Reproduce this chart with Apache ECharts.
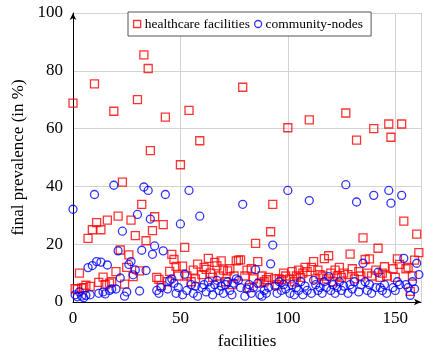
<!DOCTYPE html>
<html>
<head>
<meta charset="utf-8">
<script src="https://cdn.jsdelivr.net/npm/echarts@6/dist/echarts.min.js"></script>
<style>
html,body{margin:0;padding:0;background:#fff;}
#chart{width:427px;height:355px;}
</style>
</head>
<body>
<div id="chart"></div>
<script>
const seriesNames = ['healthcare facilities', 'community-nodes'];
const xTicks = [0, 50, 100, 150];
const yTicks = [0, 20, 40, 60, 80, 100];

const healthcare = [
  68.8, 4.6, 4.5, 10, 4.8, 5, 5.8, 22, 5.4, 25,
  75.5, 27.5, 6.8, 25, 8.6, 6, 28.3, 6.5, 7, 66,
  10.5, 29.7, 18, 41.5, 6.2, 12, 16.3, 28.3, 8.8, 23,
  70, 10.8, 33.8, 85.5, 21.2, 80.8, 52.4, 24.7, 29.5, 8.5,
  7.8, 5.7, 26.8, 64, 7, 10.6, 16.5, 14.7, 12.3, 9,
  47.5, 12.4, 18.9, 9, 66.3, 7, 11, 8, 13.1, 55.8,
  9.5, 12, 11.3, 15.1, 10, 8.5, 13.7, 12.5, 9, 14.2,
  11, 7, 10.8, 11.5, 6, 9, 14.2, 14.5, 14.6, 74.3,
  9, 11, 5, 11.5, 8, 20.3, 14, 6.5, 9, 7,
  7.7, 8.5, 24.3, 33.8, 8, 6, 8, 7.7, 10, 9,
  60.3, 8, 10.5, 7, 9, 11, 8.5, 10, 12, 10.5,
  63, 12, 14, 8, 11, 9.5, 9, 15, 8, 16,
  10, 7, 11, 9, 12, 8.5, 10, 65.4, 9.5, 16.6,
  11.5, 8, 56, 10.5, 9, 22.2, 14.7, 10, 14.9, 9,
  60, 11, 18.6, 8.5, 10, 12.2, 9, 61.6, 57, 11.5,
  8.5, 14.9, 13, 61.6, 28, 11.5, 12, 3.7, 9, 14.5,
  23.5, 17.1
];

const community = [
  32.1, 2.5, 1.8, 3.5, 2, 1.5, 2.3, 11.9, 2.5, 12.6,
  37.2, 14, 3, 13.8, 3.5, 2.8, 12.8, 4, 4.5, 40.4,
  4.5, 17.7, 8.3, 24.5, 2, 3.5, 13, 14, 9.4, 11.1,
  30.3, 3.8, 17.9, 39.8, 10.9, 38.6, 28.7, 16.5, 19.4, 4,
  3, 5, 17.7, 37.2, 4.5, 7.5, 8, 6.5, 3, 5,
  27, 2.5, 9.6, 4, 38.6, 6, 3, 5.5, 2, 29.7,
  5, 6, 3.5, 7, 5, 2.5, 6, 7.5, 4, 5.5,
  3, 6, 7, 4, 2.5, 6.5, 8, 7.5, 5, 33.8,
  2, 4.5, 6, 3, 5, 11.2, 6.5, 2.5, 2, 4,
  3, 5, 13.2, 19.7, 5.5, 3, 7, 4, 6, 4.5,
  38.6, 3, 6, 2.5, 5, 4, 7, 2.5, 5.5, 4,
  35.1, 3, 7.5, 6, 4, 5, 3, 7, 5, 8.8,
  4, 6, 3, 5, 7, 4, 5.5, 40.6, 3, 6,
  4.5, 7, 34.6, 3.5, 6, 13.4, 7, 4, 6, 3,
  36.9, 5, 10.3, 5, 4, 6, 3, 38.6, 34.2, 5,
  4, 7, 6, 36.9, 15.1, 6, 5, 2.3, 7, 4.5,
  13.4, 9.5
];

const toPairs = arr => arr.map((v, i) => [i, v]);
const serif = "'Liberation Serif', 'DejaVu Serif', 'Times New Roman', serif";

const chart = echarts.init(document.getElementById('chart'), null, {renderer: 'canvas'});
chart.setOption({
  animation: false,
  backgroundColor: '#fff',
  grid: {left: 73, right: 6, top: 13, bottom: 51, containLabel: false},
  legend: {
    left: 128, top: 12,
    orient: 'horizontal',
    padding: [5, 8, 5, 5],
    itemGap: 4,
    itemWidth: 7, itemHeight: 7,
    borderColor: '#555', borderWidth: 1,
    backgroundColor: '#fff',
    textStyle: {fontFamily: serif, fontSize: 13.5, color: '#000', padding: [0, 0, 0, -1]},
    data: [
      {name: seriesNames[0], icon: 'rect', itemStyle: {color: '#fff', borderColor: '#ff0000', borderWidth: 1.3}},
      {name: seriesNames[1], icon: 'circle', itemStyle: {color: '#fff', borderColor: '#0000ff', borderWidth: 1.3}}
    ]
  },
  xAxis: {
    type: 'value', min: 0, max: 162, interval: 50,
    name: 'facilities', nameLocation: 'middle', nameGap: 31,
    nameTextStyle: {fontFamily: serif, fontSize: 17, color: '#000'},
    axisLine: {show: true, onZero: false, symbol: ['none', 'arrow'], symbolSize: [5, 7], lineStyle: {color: '#000', width: 1}},
    axisTick: {show: false},
    axisLabel: {fontFamily: serif, fontSize: 17, color: '#000', margin: 8,
      formatter: v => xTicks.includes(v) ? String(v) : ''},
    splitLine: {show: true, lineStyle: {color: '#d3d3d3', width: 1}}
  },
  yAxis: {
    type: 'value', min: 0, max: 100, interval: 20,
    name: 'final prevalence (in %)', nameLocation: 'middle', nameGap: 44, nameRotate: 90,
    nameTextStyle: {fontFamily: serif, fontSize: 17, color: '#000'},
    axisLine: {show: true, onZero: false, symbol: ['none', 'arrow'], symbolSize: [5, 7], lineStyle: {color: '#000', width: 1}},
    axisTick: {show: false},
    axisLabel: {fontFamily: serif, fontSize: 17, color: '#000', margin: 10,
      formatter: v => yTicks.includes(v) ? String(v) : ''},
    splitLine: {show: true, lineStyle: {color: '#d3d3d3', width: 1}}
  },
  series: [
    {
      name: seriesNames[0], type: 'scatter', symbol: 'rect', symbolSize: 8,
      itemStyle: {color: 'rgba(255,255,255,0)', borderColor: '#ff0000', borderWidth: 1.3},
      data: toPairs(healthcare)
    },
    {
      name: seriesNames[1], type: 'scatter', symbol: 'circle', symbolSize: 8,
      itemStyle: {color: 'rgba(255,255,255,0)', borderColor: '#0000ff', borderWidth: 1.3},
      data: toPairs(community)
    }
  ]
});
</script>
</body>
</html>
